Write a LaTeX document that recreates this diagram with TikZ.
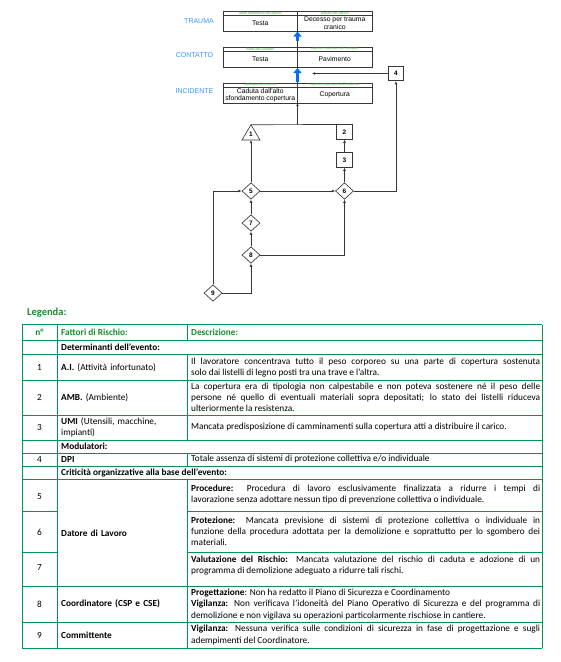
\documentclass[tikz,border=0pt]{standalone}
\usepackage{fontspec}
\setmainfont{Carlito}
\newfontfamily\arialf{Liberation Sans}
\usetikzlibrary{arrows.meta,shapes.geometric}
\definecolor{tgreen}{RGB}{0,150,80}
\definecolor{lgreen}{RGB}{20,140,40}
\definecolor{hgreen}{RGB}{60,180,60}
\definecolor{hblue}{RGB}{51,153,255}
\definecolor{ablue}{RGB}{0,112,240}
\definecolor{dgray}{RGB}{55,55,55}
\newcommand\tabf{\fontsize{9.3}{11.2}\selectfont}
\begin{document}
\begin{tikzpicture}[x=1pt,y=-1pt]
\tikzset{
 tline/.style={draw=tgreen, line width=0.9pt},
 dline/.style={draw=dgray, line width=0.65pt},
 conn/.style={draw=dgray, line width=0.65pt, -{Latex[length=3.2pt,width=2.8pt]}},
 bluearr/.style={draw=ablue, line width=3pt, -{Triangle[length=5pt,width=8pt]}},
 dbox/.style={draw=dgray, line width=0.65pt, minimum width=15.5pt, minimum height=14.5pt, inner sep=0pt, font=\arialf\bfseries\fontsize{6.5}{7}\selectfont},
 ddia/.style={diamond, draw=dgray, line width=0.65pt, minimum width=18pt, minimum height=16.5pt, inner sep=0pt, font=\arialf\bfseries\fontsize{6.5}{7}\selectfont},
 trilab/.style={inner sep=0pt, font=\arialf\bfseries\fontsize{6.5}{7}\selectfont},
 hlab/.style={font=\arialf\fontsize{3.6}{4}\selectfont, text=hgreen, inner sep=0pt},
 btxt/.style={font=\arialf\fontsize{6.8}{7.4}\selectfont, align=center, inner sep=0pt},
 side/.style={font=\arialf\fontsize{7}{8}\selectfont, text=hblue, inner sep=0pt},
 desc/.style={font=\tabf, text width=349pt, align=justify, inner sep=0pt, anchor=west},
 descn/.style={font=\tabf, text width=349pt, align=justify, inner sep=0pt, anchor=north west},
 fat/.style={font=\tabf, text width=124pt, align=left, inner sep=0pt, anchor=west},
 num/.style={font=\tabf, inner sep=0pt},
 hdr/.style={font=\tabf\bfseries, text=lgreen, inner sep=0pt},
 sect/.style={font=\tabf\bfseries, anchor=west, inner sep=0pt},
}
\path[use as bounding box] (0,0) rectangle (561,662);

% ---------- top diagram: tables ----------
\draw[dline] (223,11) rectangle (372,31);
\draw[dline] (223,15) -- (372,15);
\draw[dline] (223,47) rectangle (372,67);
\draw[dline] (223,51) -- (372,51);
\draw[dline] (223,83) rectangle (372,103);
\draw[dline] (223,87) -- (372,87);
\draw[dline] (297.5,11) -- (297.5,103);

\node[side] (lt) at (199,21) {TRAUMA};
\node[side] (lc) at (194.5,55.5) {CONTATTO};
\node[side] (li) at (194.5,91) {INCIDENTE};

\node[hlab] (h1a) at (260.25,13) {Sede anatomica del danno};
\node[hlab] (h1b) at (334.75,13) {Natura del danno};
\node[btxt] (b1a) at (260.25,23) {Testa};
\node[btxt] (b1b) at (334.75,23) {Decesso per trauma\\cranico};

\node[hlab] (h2a) at (260.25,49) {Sede del contatto};
\node[hlab] (h2b) at (334.75,49) {Agente materiale del contatto};
\node[btxt] (b2a) at (260.25,59) {Testa};
\node[btxt] (b2b) at (334.75,59) {Pavimento};

\node[hlab] (h3a) at (260.25,85) {Tipologia di incidente};
\node[hlab] (h3b) at (334.75,85) {Agente materiale dell'incidente};
\node[btxt] (b3a) at (260.25,95) {Caduta dall'alto\\sfondamento copertura};
\node[btxt] (b3b) at (334.75,95) {Copertura};

\coordinate (trb) at (297.5,31.5);
\coordinate (cot) at (297.5,40.5);
\coordinate (cob) at (297.5,68);
\coordinate (inct) at (297.5,81.5);
\draw[bluearr] (cot) -- (trb);
\draw[bluearr] (inct) -- (cob);

% ---------- top diagram: nodes ----------
\coordinate (incb) at (297.5,103);
\coordinate (jn) at (297.5,124.75);
\coordinate (t1a) at (251,124.75);
\coordinate (t1b) at (251,140);
\draw[dline] (242,140) -- (t1a) -- (260,140) -- cycle;
\node[trilab] (n1) at (251,134.5) {1};
\node[dbox] (n2) at (344.5,132) {2};
\node[dbox] (n3) at (344.5,160) {3};
\node[dbox] (n4) at (396,73.5) {4};
\node[ddia] (n5) at (251,191) {5};
\node[ddia] (n6) at (344.5,191) {6};
\node[ddia] (n7) at (251,223) {7};
\node[ddia] (n8) at (251,255) {8};
\node[ddia] (n9) at (213,293) {9};
\coordinate (c4e) at (312,73.5);

\draw[dline] (t1a) -- (n2.north);
\draw[conn] (jn) -- (incb);
\draw[conn] (n5.north) -- (t1b);
\draw[conn] (n5.east) -- (n6.west);
\draw[conn] (n6.north) -- (n3.south);
\draw[conn] (n3.north) -- (n2.south);
\draw[conn] (n6.east) -| (n4.south);
\draw[conn] (n4.west) -- (c4e);
\draw[conn] (n7.north) -- (n5.south);
\draw[conn] (n8.north) -- (n7.south);
\draw[conn] (n8.east) -| (n6.south);
\draw[conn] (n9.north) |- (n5.west);
\draw[conn] (n9.east) -| (n8.south);

% ---------- legend ----------
\node[font=\fontsize{10.5}{12}\selectfont\bfseries, text=lgreen, anchor=west, inner sep=0pt] (leg) at (27,312.5) {Legenda:};

% horizontal lines
\foreach \yy in {324.5,340,354.5,380,415,440,453,466,479,586,622,648} {
  \draw[tline] (22,\yy) -- (542,\yy);
}
\foreach \yy in {511,552} {
  \draw[tline] (22,\yy) -- (57,\yy);
  \draw[tline] (187,\yy) -- (542,\yy);
}
% vertical lines
\draw[tline] (22,324.5) -- (22,648);
\draw[tline] (542,324.5) -- (542,648);
\draw[tline] (57,324.5) -- (57,648);
\draw[tline] (187,324.5) -- (187,340);
\draw[tline] (187,354.5) -- (187,440);
\draw[tline] (187,453) -- (187,466);
\draw[tline] (187,479) -- (187,648);

% header
\node[hdr] (hn) at (39.5,332.3) {n°};
\node[hdr, anchor=west] (hf) at (61,332.3) {Fattori di Rischio:};
\node[hdr, anchor=west] (hd) at (191,332.3) {Descrizione:};

\node[sect] (sdet) at (61,347.3) {Determinanti dell’evento:};
\node[sect] (smod) at (61,446.5) {Modulatori:};
\node[sect] (scri) at (61,472.5) {Criticità organizzative alla base dell’evento:};

% numbers
\node[num] (r1) at (39.5,367.3) {1};
\node[num] (r2) at (39.5,397.5) {2};
\node[num] (r3) at (39.5,427.5) {3};
\node[num] (r4) at (39.5,459.5) {4};
\node[num] (r5) at (39.5,497) {5};
\node[num] (r6) at (39.5,532) {6};
\node[num] (r7) at (39.5,568) {7};
\node[num] (r8) at (39.5,604) {8};
\node[num] (r9) at (39.5,635.5) {9};

% factors
\node[fat] (f1) at (61,367.3) {\textbf{A.I.} (Attività infortunato)};
\node[fat] (f2) at (61,397.5) {\textbf{AMB.} (Ambiente)};
\node[fat] (f3) at (61,427.5) {\textbf{UMI} (Utensili, macchine,\\ impianti)};
\node[fat] (f4) at (61,459.5) {\textbf{DPI}};
\node[fat] (f5) at (61,533) {\textbf{Datore di Lavoro}};
\node[fat] (f8) at (61,604) {\textbf{Coordinatore (CSP e CSE)}};
\node[fat] (f9) at (61,635.5) {\textbf{Committente}};

% descriptions
\node[desc] (d1) at (191,367.3) {Il lavoratore concentrava tutto il peso corporeo su una parte di copertura sostenuta\linebreak solo dai listelli di legno posti tra una trave e l’altra.};
\node[desc] (d2) at (191,397.5) {La copertura era di tipologia non calpestabile e non poteva sostenere né il peso delle\linebreak persone né quello di eventuali materiali sopra depositati; lo stato dei listelli riduceva\linebreak ulteriormente la resistenza.};
\node[desc] (d3) at (191,427.5) {Mancata predisposizione di camminamenti sulla copertura atti a distribuire il carico.};
\node[desc] (d4) at (191,459.5) {Totale assenza di sistemi di protezione collettiva e/o individuale};
\node[desc] (d5) at (191,494.5) {\textbf{Procedure:} Procedura di lavoro esclusivamente finalizzata a ridurre i tempi di\linebreak lavorazione senza adottare nessun tipo di prevenzione collettiva o individuale.};
\node[desc] (d6) at (191,531.5) {\textbf{Protezione:} Mancata previsione di sistemi di protezione collettiva o individuale in\linebreak funzione della procedura adottata per la demolizione e soprattutto per lo sgombero dei\linebreak materiali.};
\node[descn] (d7) at (191,556) {\textbf{Valutazione del Rischio:} Mancata valutazione del rischio di caduta e adozione di un\linebreak programma di demolizione adeguato a ridurre tali rischi.};
\node[desc] (d8) at (191,604.5) {\textbf{Progettazione}: Non ha redatto il Piano di Sicurezza e Coordinamento\par \textbf{Vigilanza:} Non verificava l’idoneità del Piano Operativo di Sicurezza e del programma di\linebreak demolizione e non vigilava su operazioni particolarmente rischiose in cantiere.};
\node[desc] (d9) at (191,635) {\textbf{Vigilanza:} Nessuna verifica sulle condizioni di sicurezza in fase di progettazione e sugli\linebreak adempimenti del Coordinatore.};
\end{tikzpicture}
\end{document}
